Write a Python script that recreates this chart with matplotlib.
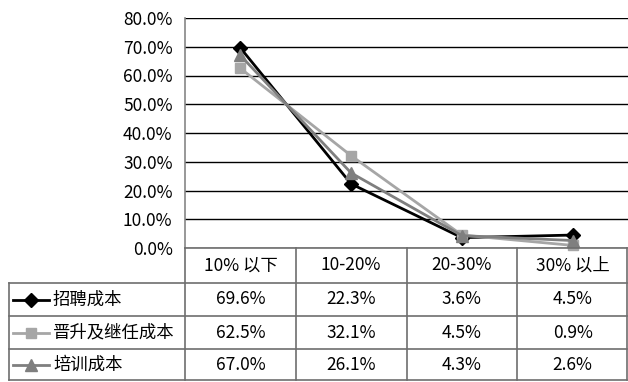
import matplotlib
matplotlib.use("Agg")
import matplotlib.pyplot as plt
from matplotlib.ticker import FuncFormatter

plt.rcParams['font.family'] = ['Noto Sans CJK SC', 'DejaVu Sans']

categories = ["10% 以下", "10-20%", "20-30%", "30% 以上"]
series_names = ["招聘成本", "晋升及继任成本", "培训成本"]
recruit = [69.6, 22.3, 3.6, 4.5]
promotion = [62.5, 32.1, 4.5, 0.9]
training = [67.0, 26.1, 4.3, 2.6]
series_values = [recruit, promotion, training]

colors = ["#000000", "#a6a6a6", "#7f7f7f"]
markers = ["D", "s", "^"]
msizes = [7.5, 7.5, 8]

W, H = 628, 382
fig = plt.figure(figsize=(W / 100, H / 100), dpi=100)

# plot area in pixel bounds
px_left, px_right, px_top, px_bottom = 185, 628, 18, 248
ax = fig.add_axes([px_left / W, 1 - px_bottom / H,
                   (px_right - px_left) / W, (px_bottom - px_top) / H])

xs = [i + 0.5 for i in range(len(categories))]
for vals, c, m, ms in zip(series_values, colors, markers, msizes):
    ax.plot(xs, vals, color=c, lw=2, marker=m, markersize=ms,
            markerfacecolor=c, markeredgecolor=c, zorder=3, clip_on=False)

fs = 12.5
ax.set_xlim(0, len(categories))
ax.set_ylim(0, 80)
ax.set_yticks(range(0, 81, 10))
ax.yaxis.set_major_formatter(FuncFormatter(lambda v, p: f"{v:.1f}%"))
ax.set_xticks([])
ax.tick_params(axis='y', length=0, pad=9, labelsize=fs, colors="#000000")
ax.grid(axis='y', color="#000000", lw=1)
ax.set_axisbelow(True)
for s in ["top", "right", "bottom"]:
    ax.spines[s].set_visible(False)
ax.spines["left"].set_color("#868686")
ax.spines["left"].set_linewidth(1.2)

# data table below the plot, drawn in pixel coordinates
tab = fig.add_axes([0, 0, 1, 1], facecolor="none")
tab.set_xlim(0, W)
tab.set_ylim(H, 0)
tab.axis("off")

line_c = "#6e6e6e"
col_w = (px_right - px_left) / len(categories)
col_edges = [px_left + i * col_w for i in range(len(categories) + 1)]
row_edges = [248, 283, 316, 349, 380]
tab_left = 9
tab_right = 627

# horizontal lines
tab.plot([px_left, tab_right], [row_edges[0]] * 2, color=line_c, lw=1.2)
for y in row_edges[1:]:
    tab.plot([tab_left, tab_right], [y, y], color=line_c, lw=1.2)
# vertical lines
tab.plot([tab_left, tab_left], [row_edges[1], row_edges[-1]], color=line_c, lw=1.2)
for x in col_edges[1:-1]:
    tab.plot([x, x], [row_edges[0], row_edges[-1]], color=line_c, lw=1.2)
tab.plot([px_left, px_left], [row_edges[0], row_edges[-1]], color=line_c, lw=1.2)
tab.plot([tab_right, tab_right], [row_edges[0], row_edges[-1]], color=line_c, lw=1.2)

for j, cat in enumerate(categories):
    cx = (col_edges[j] + col_edges[j + 1]) / 2
    tab.text(cx, (row_edges[0] + row_edges[1]) / 2, cat, ha="center",
             va="center", fontsize=fs)

for i, (name, vals, c, m, ms) in enumerate(zip(series_names, series_values,
                                                colors, markers, msizes)):
    cy = (row_edges[i + 1] + row_edges[i + 2]) / 2
    tab.plot([13, 49], [cy, cy], color=c, lw=2)
    tab.plot([31], [cy], marker=m, markersize=ms, color=c)
    tab.text(53, cy, name, ha="left", va="center", fontsize=fs)
    for j, v in enumerate(vals):
        cx = (col_edges[j] + col_edges[j + 1]) / 2
        tab.text(cx, cy, f"{v:.1f}%", ha="center", va="center", fontsize=fs)

fig.savefig("out.png", dpi=100)
